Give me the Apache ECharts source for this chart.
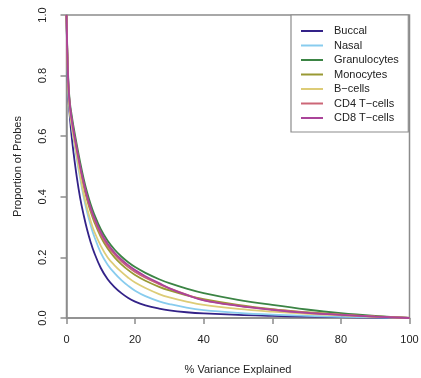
<!DOCTYPE html>
<html>
<head>
<meta charset="utf-8">
<script src="https://cdn.jsdelivr.net/npm/echarts@6/dist/echarts.min.js"></script>
<style>html,body{margin:0;padding:0;background:#fff}#c{width:421px;height:378px}</style>
</head>
<body>
<div id="c"></div>
<script>
var xVals = [0, 0.3, 0.6, 1, 1.5, 2, 3, 4, 5, 6, 7, 8, 10, 12, 14, 16, 18, 20, 23, 27, 30, 35, 40, 50, 60, 70, 80, 90, 100];
var buccal = [1, 0.82, 0.72, 0.66, 0.6, 0.55, 0.465, 0.395, 0.34, 0.292, 0.252, 0.218, 0.165, 0.128, 0.102, 0.082, 0.066, 0.054, 0.042, 0.031, 0.025, 0.019, 0.015, 0.01, 0.007, 0.0045, 0.0028, 0.0013, 0];
var nasal = [1, 0.83, 0.73, 0.68, 0.635, 0.595, 0.525, 0.46, 0.4, 0.35, 0.308, 0.272, 0.215, 0.176, 0.148, 0.125, 0.106, 0.09, 0.072, 0.055, 0.046, 0.034, 0.026, 0.017, 0.011, 0.007, 0.004, 0.002, 0];
var granulocytes = [1, 0.86, 0.77, 0.71, 0.67, 0.635, 0.572, 0.513, 0.46, 0.415, 0.377, 0.345, 0.293, 0.255, 0.226, 0.203, 0.184, 0.168, 0.149, 0.128, 0.115, 0.097, 0.082, 0.06, 0.043, 0.028, 0.016, 0.007, 0];
var monocytes = [1, 0.84, 0.75, 0.69, 0.65, 0.615, 0.55, 0.49, 0.435, 0.39, 0.352, 0.32, 0.268, 0.229, 0.2, 0.177, 0.158, 0.142, 0.123, 0.103, 0.091, 0.075, 0.062, 0.043, 0.029, 0.019, 0.011, 0.005, 0];
var bcells = [1, 0.84, 0.74, 0.68, 0.638, 0.6, 0.535, 0.47, 0.41, 0.362, 0.322, 0.288, 0.238, 0.2, 0.174, 0.152, 0.133, 0.117, 0.099, 0.079, 0.068, 0.054, 0.043, 0.03, 0.021, 0.014, 0.0085, 0.004, 0];
var cd4 = [1, 0.85, 0.76, 0.7, 0.655, 0.618, 0.555, 0.496, 0.443, 0.398, 0.36, 0.328, 0.276, 0.238, 0.21, 0.187, 0.168, 0.152, 0.133, 0.112, 0.098, 0.077, 0.059, 0.041, 0.028, 0.018, 0.011, 0.005, 0];
var cd8 = [1, 0.85, 0.76, 0.7, 0.658, 0.622, 0.56, 0.5, 0.448, 0.403, 0.366, 0.334, 0.283, 0.245, 0.216, 0.193, 0.174, 0.158, 0.138, 0.115, 0.098, 0.076, 0.058, 0.04, 0.027, 0.017, 0.01, 0.0045, 0];
var names = ['Buccal', 'Nasal', 'Granulocytes', 'Monocytes', 'B\u2212cells', 'CD4 T\u2212cells', 'CD8 T\u2212cells'];
var colors = ['#332288', '#88CCEE', '#3b8444', '#999933', '#DDCC77', '#CC6677', '#AA4499'];
var seriesData = [buccal, nasal, granulocytes, monocytes, bcells, cd4, cd8];
var xTicks = [0, 20, 40, 60, 80, 100];
var yTicks = [0, 0.2, 0.4, 0.6, 0.8, 1.0];

var font = "'Liberation Sans', Arial, Helvetica, sans-serif";
var axisGray = '#8c8c8c';
var chart = echarts.init(document.getElementById('c'), null, {renderer: 'canvas'});

var series = seriesData.map(function (arr, i) {
  return {
    name: names[i],
    type: 'line',
    data: xVals.map(function (x, j) { return [x, arr[j]]; }),
    symbol: 'none',
    smooth: 0.4,
    color: colors[i],
    lineStyle: {width: 1.8, color: colors[i]},
    animation: false,
    z: 2 + i
  };
});

chart.setOption({
  animation: false,
  backgroundColor: '#fff',
  grid: {left: 66.5, right: 11.5, top: 15, bottom: 60, outerBoundsMode: 'none', containLabel: false,
    show: true, borderColor: axisGray, borderWidth: 1.5, backgroundColor: 'transparent'},
  xAxis: {
    type: 'value', min: xTicks[0], max: xTicks[xTicks.length - 1], interval: 20,
    name: '% Variance Explained', nameLocation: 'middle', nameGap: 46,
    nameTextStyle: {fontFamily: font, fontSize: 11, color: '#222'},
    axisLine: {show: true, lineStyle: {color: axisGray, width: 1.5}},
    axisTick: {show: true, length: 6, lineStyle: {color: axisGray, width: 1.5}},
    axisLabel: {fontFamily: font, fontSize: 11, color: '#222', margin: 16},
    splitLine: {show: false}
  },
  yAxis: {
    type: 'value', min: yTicks[0], max: yTicks[yTicks.length - 1], interval: 0.2,
    name: 'Proportion of Probes', nameLocation: 'middle', nameGap: 43,
    nameTextStyle: {fontFamily: font, fontSize: 11, color: '#222'},
    axisLine: {show: true, lineStyle: {color: axisGray, width: 1.5}},
    axisTick: {show: true, length: 6, lineStyle: {color: axisGray, width: 1.5}},
    axisLabel: {fontFamily: font, fontSize: 11, color: '#222', rotate: 90, margin: 18,
      formatter: function (v) { return v.toFixed(1); }},
    splitLine: {show: false}
  },
  legend: {
    orient: 'vertical', left: 291, top: 15,
    data: names,
    icon: 'rect',
    itemWidth: 22, itemHeight: 2, itemGap: 0.5,
    padding: [9, 9.5, 7, 10],
    backgroundColor: '#fff', borderColor: axisGray, borderWidth: 1.2,
    textStyle: {fontFamily: font, fontSize: 11, lineHeight: 14, color: '#222', padding: [0, 0, 0, 6]}
  },
  series: series
});
</script>
</body>
</html>
